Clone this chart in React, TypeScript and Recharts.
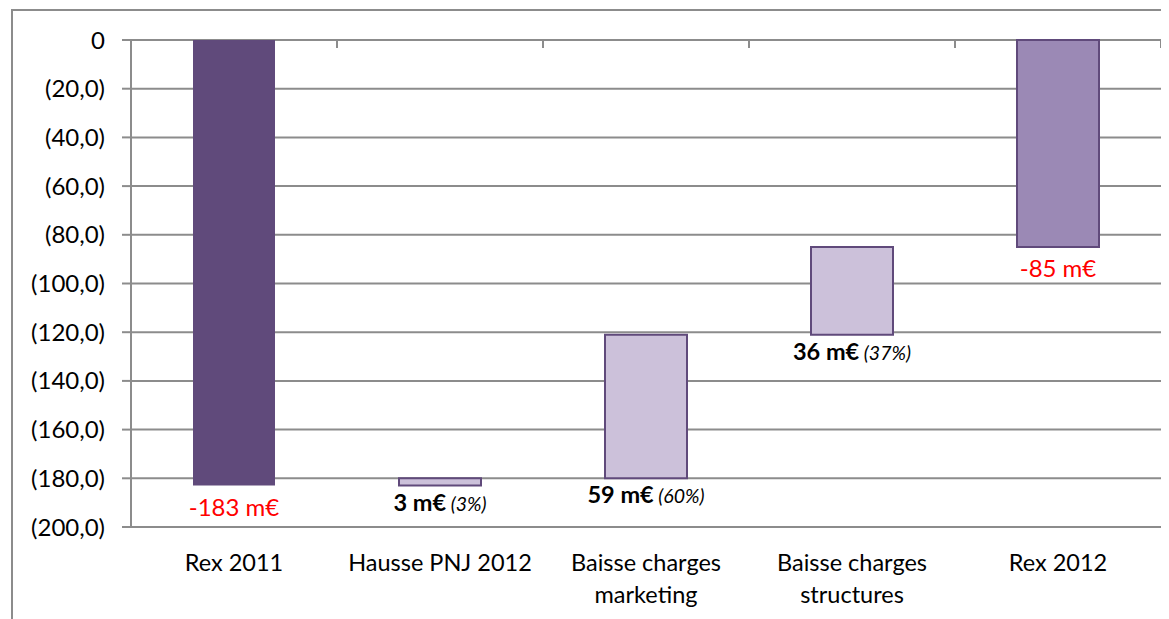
import React from 'react'
import { BarChart, Bar, XAxis, YAxis, CartesianGrid, Cell, LabelList } from 'recharts'

const categories = ['Rex 2011', 'Hausse PNJ 2012', 'Baisse charges\nmarketing', 'Baisse charges\nstructures', 'Rex 2012']
const barStarts = [0, -183, -180, -121, 0]
const barEnds = [-183, -180, -121, -85, -85]
const amountLabels = ['-183 m€', '3 m€', '59 m€', '36 m€', '-85 m€']
const shareLabels = ['', '(3%)', '(60%)', '(37%)', '']
const isTotal = [true, false, false, false, true]
const yTicks = [0, -20, -40, -60, -80, -100, -120, -140, -160, -180, -200]

const data = categories.map((name, i) => ({ name, range: [barStarts[i], barEnds[i]] }))

const fills = ['#604a7b', '#ccc1da', '#ccc1da', '#ccc1da', '#9b89b5']
const strokes = ['none', '#604a7b', '#604a7b', '#604a7b', '#604a7b']
const FONT = 'Lato, "Open Sans", sans-serif'
const GRID = '#8c8c8c'

const fmtY = (v: number) => (v === 0 ? '0' : `(${Math.abs(v).toFixed(1).replace('.', ',')})`)

function CategoryTick({ x, y, payload }: any) {
  const lines = String(payload.value).split('\n')
  return (
    <text x={x} y={y} textAnchor="middle" fontFamily={FONT} fontSize={23.5} fill="#000">
      {lines.map((l, i) => (
        <tspan key={i} x={x} dy={i === 0 ? 36 : 32}>{l}</tspan>
      ))}
    </text>
  )
}

// small marks hanging under the zero line, at the right edge of each category band
function BoundaryTick({ x, y, payload }: any) {
  const bx = Number(x) + Number(payload?.offset ?? 0)
  return <line x1={bx} x2={bx} y1={y} y2={Number(y) + 8} stroke={GRID} strokeWidth={2} />
}

function ValueLabel({ x, y, width, height, index }: any) {
  const bottom = Math.max(Number(y), Number(y) + Number(height))
  const cx = Number(x) + Number(width) / 2
  if (isTotal[index]) {
    return (
      <text x={cx} y={bottom + 30} textAnchor="middle" fontFamily={FONT} fontSize={24} fill="#ff0000">
        {amountLabels[index]}
      </text>
    )
  }
  return (
    <text x={cx} y={bottom + 25} textAnchor="middle" fontFamily={FONT} fill="#000">
      <tspan fontSize={23.5} fontWeight="bold">{amountLabels[index]}</tspan>
      <tspan fontSize={19.5} fontStyle="italic">{' ' + shareLabels[index]}</tspan>
    </text>
  )
}

export default function App() {
  return (
    <div style={{ position: 'relative', width: 1161, height: 611, overflow: 'hidden', background: '#fff' }}>
      <div
        style={{
          position: 'absolute', left: 3, top: 1, width: 1300, height: 800,
          borderLeft: `2px solid ${GRID}`, borderTop: `2px solid ${GRID}`,
        }}
      />
      <BarChart
        width={1161}
        height={611}
        data={data}
        margin={{ top: 31, right: 8, left: 0, bottom: 0 }}
        barSize={82}
        style={{ position: 'absolute', left: 0, top: 0 }}
      >
        <CartesianGrid vertical={false} stroke={GRID} strokeWidth={2} />
        <XAxis
          dataKey="name"
          height={92}
          axisLine={false}
          tickLine={false}
          interval={0}
          tick={<CategoryTick />}
        />
        <XAxis
          xAxisId="top"
          orientation="top"
          dataKey="name"
          interval={0}
          height={1}
          axisLine={false}
          tickLine={false}
          tickSize={0}
          tickMargin={0}
          tick={<BoundaryTick />}
        />
        <YAxis
          width={123}
          domain={[-200, 0]}
          ticks={yTicks}
          interval={0}
          tickFormatter={fmtY}
          axisLine={{ stroke: GRID, strokeWidth: 2 }}
          tickLine={{ stroke: GRID, strokeWidth: 2 }}
          tickSize={9}
          tickMargin={17}
          tick={{ fontFamily: FONT, fontSize: 24, fill: '#000' }}
        />
        <Bar dataKey="range" isAnimationActive={false}>
          {data.map((_, i) => (
            <Cell key={i} fill={fills[i]} stroke={strokes[i]} strokeWidth={2} />
          ))}
          <LabelList dataKey="range" content={<ValueLabel />} />
        </Bar>
      </BarChart>
    </div>
  )
}
